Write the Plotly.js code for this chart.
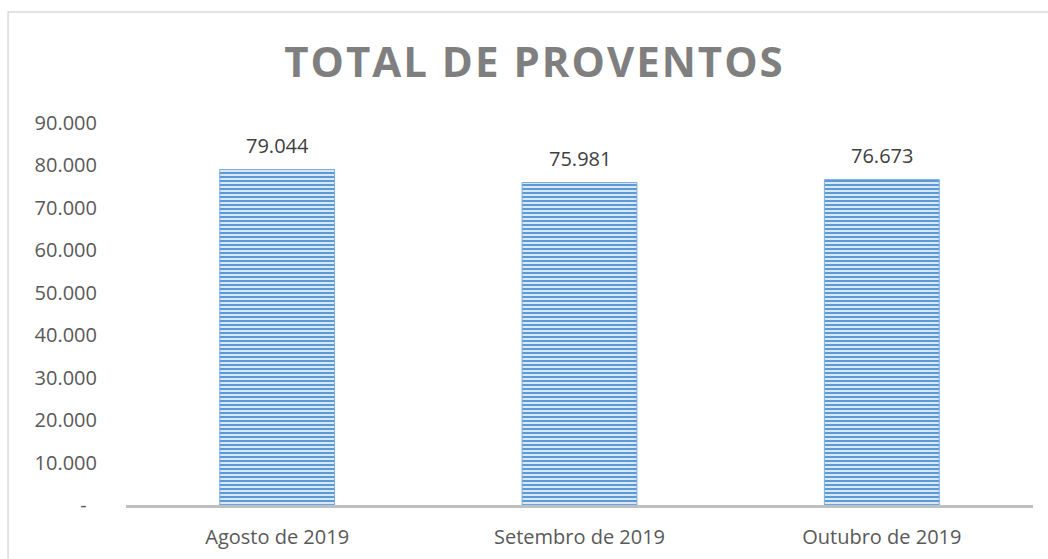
<!DOCTYPE html>
<html><head><meta charset="utf-8">
<script src="https://cdn.plot.ly/plotly-3.0.1.min.js"></script>
<style>html,body{margin:0;padding:0;background:#fff}#chart{width:1048px;height:559px}
.gtitle{letter-spacing:2px}</style>
</head><body><div id="chart"></div>
<script>
const categories = ["Agosto de 2019", "Setembro de 2019", "Outubro de 2019"];
const values = [79044, 75981, 76673];
const valueLabels = ["79.044", "75.981", "76.673"];
const yTickVals = [0, 10000, 20000, 30000, 40000, 50000, 60000, 70000, 80000, 90000];
const yTickText = ["-\u00a0\u00a0", "10.000", "20.000", "30.000", "40.000", "50.000", "60.000", "70.000", "80.000", "90.000"];

const trace = {
  type: "bar",
  x: categories,
  y: values,
  marker: {
    color: "#dae7f6",
    line: {color: "#7aaee0", width: 1},
    pattern: {shape: "-", fgcolor: "#5b9bd5", bgcolor: "#dae7f6", size: 4, solidity: 0.5}
  },
  hoverinfo: "none"
};

const annotations = categories.map((c, i) => ({
  x: c, y: values[i], xref: "x", yref: "y",
  text: valueLabels[i], showarrow: false, yanchor: "middle", yshift: 24,
  font: {family: "Open Sans, sans-serif", size: 20, color: "#404040"}
}));

const layout = {
  width: 1048, height: 559,
  margin: {l: 126, r: 15, t: 123, b: 54},
  paper_bgcolor: "#ffffff", plot_bgcolor: "#ffffff",
  showlegend: false,
  bargap: 0.62,
  title: {
    text: "<b>TOTAL DE PROVENTOS</b>",
    font: {family: "Open Sans, sans-serif", size: 42, color: "#7f7f7f"},
    x: 0.51, xref: "container", xanchor: "center",
    y: 0.889, yref: "container", yanchor: "middle"
  },
  xaxis: {
    type: "category",
    showline: true, linecolor: "#bfbfbf", linewidth: 2.5,
    showgrid: false, zeroline: false, ticks: "",
    ticklabelstandoff: 12,
    tickfont: {family: "Open Sans, sans-serif", size: 20, color: "#595959"}
  },
  yaxis: {
    range: [0, 90000],
    tickvals: yTickVals, ticktext: yTickText,
    showline: false, showgrid: false, zeroline: false, ticks: "",
    ticklabelstandoff: 28,
    tickfont: {family: "Open Sans, sans-serif", size: 20, color: "#595959"}
  },
  annotations: annotations,
  shapes: [{
    type: "rect", xref: "paper", yref: "paper",
    x0: -0.130, x1: 1.05, y0: -0.2, y1: 1.2906,
    line: {color: "#d9d9d9", width: 1.5}, fillcolor: "rgba(0,0,0,0)", layer: "below"
  }]
};

Plotly.newPlot("chart", [trace], layout, {displayModeBar: false, staticPlot: true});
</script></body></html>
